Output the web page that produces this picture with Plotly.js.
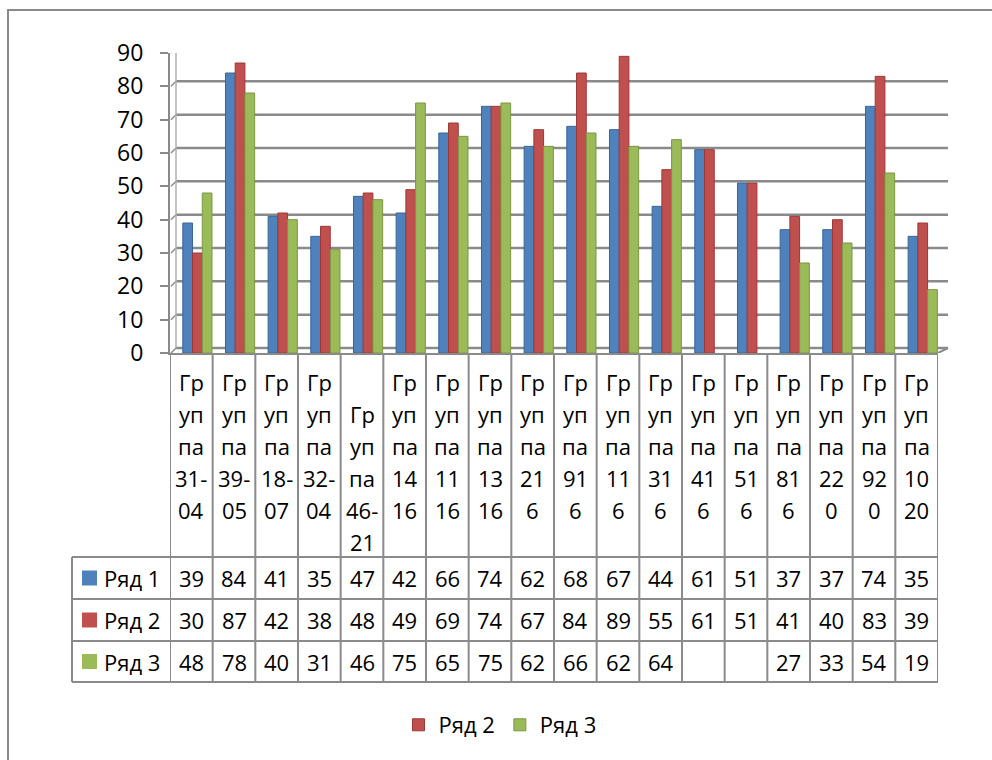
<!DOCTYPE html>
<html>
<head>
<meta charset="utf-8">
<script src="https://cdn.plot.ly/plotly-3.0.1.min.js"></script>
<style>html,body{margin:0;padding:0;background:#fff;}#chart{width:992px;height:760px;}</style>
</head>
<body>
<div id="chart"></div>
<script>
// ---- data ----
const categories = ["Группа 31-04","Группа 39-05","Группа 18-07","Группа 32-04","Группа 46-21","Группа 1416","Группа 1116","Группа 1316","Группа 216","Группа 916","Группа 116","Группа 316","Группа 416","Группа 516","Группа 816","Группа 220","Группа 920","Группа 1020"];
const headerLabels = ["Гр\nуп\nпа\n31-\n04","Гр\nуп\nпа\n39-\n05","Гр\nуп\nпа\n18-\n07","Гр\nуп\nпа\n32-\n04","\nГр\nуп\nпа\n46-\n21","Гр\nуп\nпа\n14\n16","Гр\nуп\nпа\n11\n16","Гр\nуп\nпа\n13\n16","Гр\nуп\nпа\n21\n6","Гр\nуп\nпа\n91\n6","Гр\nуп\nпа\n11\n6","Гр\nуп\nпа\n31\n6","Гр\nуп\nпа\n41\n6","Гр\nуп\nпа\n51\n6","Гр\nуп\nпа\n81\n6","Гр\nуп\nпа\n22\n0","Гр\nуп\nпа\n92\n0","Гр\nуп\nпа\n10\n20"];
const series1 = [39,84,41,35,47,42,66,74,62,68,67,44,61,51,37,37,74,35];
const series2 = [30,87,42,38,48,49,69,74,67,84,89,55,61,51,41,40,83,39];
const series3 = [48,78,40,31,46,75,65,75,62,66,62,64,null,null,27,33,54,19];
const seriesNames = ["Ряд 1","Ряд 2","Ряд 3"];
const seriesInLegend = [false,true,true];
const yTicks = [0,10,20,30,40,50,60,70,80,90];

// ---- style ----
const colors = ["#4F81BD","#C0504D","#9BBB59"];
const edgeColors = ["#3A6597","#9A3A37","#7A9645"];
const gridColor = "#8A8A8A";
const FONT = "Open Sans, Noto Sans, sans-serif";
const W = 992, H = 760;
const L = 170, R = 938, T = 53, B = 353;
const fx = p => (p - L) / (R - L);
const fy = p => (B - p) / (B - T);
const BAR_W = 0.228, GROUP_OFFSET = -0.2; // 3D depth pushes the group right of centre

const allSeries = [series1, series2, series3];
const traces = allSeries.map((s, k) => ({
  type: "bar",
  x: categories,
  y: s,
  name: seriesNames[k],
  showlegend: seriesInLegend[k],
  width: BAR_W,
  offset: GROUP_OFFSET + k * BAR_W,
  marker: {color: colors[k], line: {color: edgeColors[k], width: 1}},
  hoverinfo: "x+y+name"
}));

const shapes = [];
const annotations = [];
const lineStyle = {color: gridColor, width: 2};

// outer frame
shapes.push({type:"rect", xref:"paper", yref:"paper", x0:fx(8), x1:fx(1005), y0:fy(10), y1:fy(775), line:{color:"#8A8A8A", width:2}, layer:"below"});

// 3D back-wall gridlines (offset up/right)
yTicks.forEach(v => {
  shapes.push({type:"line", xref:"paper", yref:"y", x0:fx(176), x1:fx(948), ysizemode:"pixel", yanchor:v, y0:5, y1:5, line:{color:gridColor, width:2.5}, layer:"below"});
  shapes.push({type:"line", xref:"paper", yref:"y", xsizemode:"pixel", xanchor:fx(171), x0:0, x1:5, ysizemode:"pixel", yanchor:v, y0:0, y1:5, line:{color:gridColor, width:1.5}, layer:"below"});
});
// back wall left edge
shapes.push({type:"line", xref:"paper", yref:"y", x0:fx(176), x1:fx(176), ysizemode:"pixel", yanchor:0, y0:5, y1:305, line:{color:"#B0B0B0", width:1.5}, layer:"below"});
// floor right diagonal
shapes.push({type:"line", xref:"paper", yref:"y", xsizemode:"pixel", xanchor:1, x0:0, x1:10, ysizemode:"pixel", yanchor:0, y0:0, y1:5, line:lineStyle, layer:"below"});

// data table: vertical lines
for (let i = 0; i <= categories.length; i++) {
  shapes.push({type:"line", xref:"x", yref:"paper", x0:i-0.5, x1:i-0.5, y0:fy(353), y1:fy(682), line:lineStyle});
}
// table horizontal lines
[557, 599, 641, 682].forEach(p => {
  shapes.push({type:"line", xref:"paper", yref:"paper", x0:fx(72), x1:1, y0:fy(p), y1:fy(p), line:lineStyle});
});
shapes.push({type:"line", xref:"paper", yref:"paper", x0:fx(72), x1:fx(72), y0:fy(557), y1:fy(682), line:lineStyle});

// header labels
headerLabels.forEach((lab, i) => {
  lab.split("\n").forEach((ln, k) => {
    if (!ln) return;
    annotations.push({xref:"x", yref:"paper", x:categories[i], y:fy(382 + 32*k), text:ln, showarrow:false, xanchor:"center", yanchor:"middle", font:{family:FONT, size:22, color:"#000"}});
  });
});

// table rows
const rowCenters = [578, 620, 661.5];
allSeries.forEach((s, k) => {
  const yc = rowCenters[k];
  shapes.push({type:"rect", xref:"paper", yref:"paper", x0:fx(82), x1:fx(97), y0:fy(yc-7.5), y1:fy(yc+7.5), fillcolor:colors[k], line:{width:0}});
  annotations.push({xref:"paper", yref:"paper", x:fx(102), y:fy(yc), text:seriesNames[k], showarrow:false, xanchor:"left", yanchor:"middle", font:{family:FONT, size:22, color:"#000"}});
  s.forEach((v, i) => {
    if (v === null) return;
    annotations.push({xref:"x", yref:"paper", x:categories[i], y:fy(yc), text:String(v), showarrow:false, xanchor:"center", yanchor:"middle", font:{family:FONT, size:22, color:"#000"}});
  });
});

const layout = {
  width: W, height: H,
  margin: {l: L, r: W - R, t: T, b: H - B, pad: 0},
  paper_bgcolor: "#fff", plot_bgcolor: "rgba(0,0,0,0)",
  barmode: "group",
  xaxis: {type:"category", range:[-0.5, categories.length - 0.5], showticklabels:false, ticks:"", showgrid:false, zeroline:false, showline:true, linecolor:gridColor, linewidth:2, fixedrange:true},
  yaxis: {range:[0,90], tickvals:yTicks, ticks:"outside", ticklen:8, tickwidth:2, tickcolor:gridColor, showgrid:false, zeroline:false, showline:true, linecolor:gridColor, linewidth:2, ticklabelstandoff:12, tickfont:{family:FONT, size:23, color:"#000"}, fixedrange:true},
  legend: {orientation:"h", x:fx(500), xanchor:"center", y:fy(725), yanchor:"middle", font:{family:FONT, size:22, color:"#000"}, bgcolor:"rgba(0,0,0,0)", itemwidth:30},
  shapes: shapes,
  annotations: annotations,
  showlegend: true
};

Plotly.newPlot("chart", traces, layout, {displayModeBar:false, staticPlot:true});
</script>
</body>
</html>
